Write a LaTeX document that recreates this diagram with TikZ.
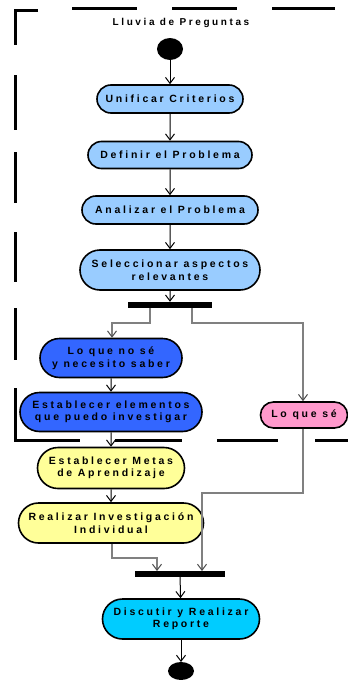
\documentclass[tikz,border=0pt]{standalone}
\usepackage{fontspec}
\setmainfont{Liberation Sans}[LetterSpace=26]
\usetikzlibrary{shapes.misc,arrows.meta}
\definecolor{lblue}{HTML}{99CCFF}
\definecolor{dblue}{HTML}{3366FF}
\definecolor{pinkc}{HTML}{FF99CC}
\definecolor{yel}{HTML}{FFFF99}
\definecolor{cyanc}{HTML}{00CCFF}
\definecolor{conn}{HTML}{808080}
\tikzset{
  act/.style={rounded rectangle, draw=black, line width=1.6pt, inner sep=0pt,
    align=center, font=\fontsize{10.5}{12.5}\selectfont\bfseries},
  arr/.style={line width=1pt, -{Straight Barb[length=6pt,width=9pt]}},
  garr/.style={draw=conn, line width=1.6pt, -{Straight Barb[length=6pt,width=9pt,color=black!70,line width=1pt]}},
  bar/.style={fill=black, inner sep=0pt},
  frame/.style={line width=3pt, line cap=butt}
}
\begin{document}
\begin{tikzpicture}[x=1pt,y=-1pt]
\useasboundingbox (0,0) rectangle (348,680);
% dashed frame
\draw[frame] (38,10) -- (15,10) -- (15,45);
\foreach \a/\b in {75/130,152/203,232/282,308/360}{\draw[frame] (15,\a) -- (15,\b);}
\draw[frame] (15,388) -- (15,440) -- (80,440);
\foreach \a/\b in {72/137,172/237,272/335}{\draw[frame] (\a,8) -- (\b,8);}
\foreach \a/\b in {115/182,217/278,315/348}{\draw[frame] (\a,440) -- (\b,440);}
\node[font=\fontsize{10}{12}\selectfont\bfseries] (title) at (181,23) {Lluvia de Preguntas};
% nodes
\fill (170,49) ellipse [x radius=13, y radius=11];
\coordinate (start) at (170,60);
\node[act, fill=lblue, minimum width=146pt, minimum height=28pt] (n1) at (170,99) {Unificar Criterios};
\node[act, fill=lblue, minimum width=164pt, minimum height=27pt] (n2) at (170,155) {Definir el Problema};
\node[act, fill=lblue, minimum width=176pt, minimum height=28pt] (n3) at (170,210) {Analizar el Problema};
\node[act, fill=lblue, minimum width=180pt, minimum height=40pt] (n4) at (170,270) {Seleccionar aspectos\\relevantes};
\node[bar, minimum width=84pt, minimum height=6pt] (fork) at (170,305) {};
\node[act, fill=dblue, minimum width=142pt, minimum height=39pt] (n5) at (111,358) {Lo que no sé\\y necesito saber};
\node[act, fill=dblue, minimum width=182pt, minimum height=39pt] (n6) at (111,412) {Establecer elementos\\que puedo investigar};
\node[act, fill=pinkc, minimum width=87pt, minimum height=26pt] (n7) at (304,415) {Lo que sé};
\node[act, fill=yel, minimum width=147pt, minimum height=41pt] (n8) at (111,468) {Establecer Metas\\de Aprendizaje};
\node[act, fill=yel, minimum width=185pt, minimum height=40pt] (n9) at (111,523) {Realizar Investigación\\Individual};
\node[bar, minimum width=90pt, minimum height=6pt] (join) at (180,574) {};
\node[act, fill=cyanc, minimum width=157pt, minimum height=40pt] (n10) at (181,619) {Discutir y Realizar\\Reporte};
\fill (181,671) ellipse [x radius=13, y radius=9];
\coordinate (endc) at (181,662);
% connectors
\draw[arr] (start) -- (n1);
\draw[arr] (n1) -- (n2);
\draw[arr] (n2) -- (n3);
\draw[arr] (n3) -- (n4);
\draw[arr] (n4) -- (fork);
\draw[garr] (150,308) -- (150,323) -- (112,323) -- (n5.north -| 112,0);
\draw[garr] (192,308) -- (192,323) -- (303,323) -- (n7.north -| 303,0);
\draw[arr] (n5) -- (n6);
\draw[arr] (n6) -- (n8);
\draw[arr] (n8) -- (n9);
\draw[garr] (n9.south -| 112,0) -- (112,558) -- (157,558) -- (157,571);
\draw[garr] (n7.south -| 303,0) -- (303,493) -- (202,493) -- (202,571);
\draw[arr] (join) -- (n10);
\draw[arr] (n10) -- (endc);
\end{tikzpicture}
\end{document}
